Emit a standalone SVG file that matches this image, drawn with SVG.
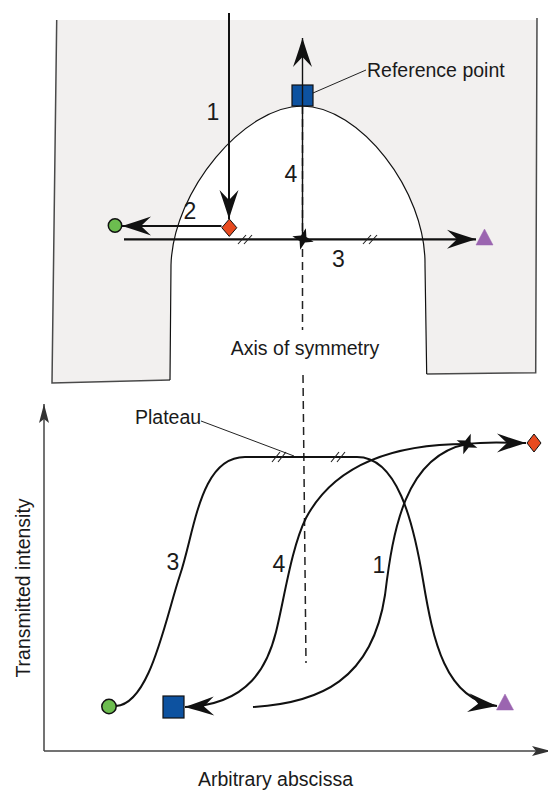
<svg xmlns="http://www.w3.org/2000/svg" width="548" height="790" viewBox="0 0 548 790">
<style>
text{font-family:"Liberation Sans",Arial,sans-serif;fill:#1a1a1a}
.lbl{font-size:19.5px}
.num{font-size:23px;text-anchor:middle}
.edge{fill:none;stroke:#4a4a4a;stroke-width:1.5}
.arch{fill:none;stroke:#111;stroke-width:1.2}
.ln{fill:none;stroke:#111;stroke-width:2}
.curve{fill:none;stroke:#111;stroke-width:2}
.dash{fill:none;stroke:#222;stroke-width:1.5;stroke-dasharray:8 5}
.thin{fill:none;stroke:#222;stroke-width:1}
.tick{fill:none;stroke:#222;stroke-width:1.1}
.axis{fill:none;stroke:#444;stroke-width:1.5}
.sq{fill:#0d52a0;stroke:#111;stroke-width:1.2}
.ci{fill:#6cbd4f;stroke:#111;stroke-width:1.5}
.di{fill:#e84a1f;stroke:#111;stroke-width:1}
.tr{fill:#9b65b0;stroke:#9b65b0;stroke-width:0.5}
.st{fill:#111}
</style>
<defs>
<marker id="ah" markerUnits="userSpaceOnUse" markerWidth="32" markerHeight="22" viewBox="0 0 32 22" refX="30" refY="11" orient="auto" overflow="visible">
<path d="M30,11 Q17,7 1,1.5 L11,11 L1,20.5 Q17,15 30,11 Z" fill="#111"/>
</marker>
<marker id="ax" markerUnits="userSpaceOnUse" markerWidth="22" markerHeight="12" viewBox="0 0 22 12" refX="20" refY="6" orient="auto" overflow="visible">
<path d="M20,6 L1,1 L5,6 L1,11 Z" fill="#333"/>
</marker>
<path id="star" d="M0,-11 L2.8,-2.8 L11,0 L2.8,2.8 L0,11 L-2.8,2.8 L-11,0 L-2.8,-2.8 Z"/>
</defs>

<g id="sample">
<path d="M56.7,20 L537,20 L535.7,372.7 L426.7,374 L425,265 C426,190 359,106 302,106 C245,106 173,190 171,265 L170,380 L52,383 Z" fill="#f2f0ef"/>
<path class="edge" d="M56.7,20 L52,383 L170,380"/>
<path class="edge" d="M537,18 L535.7,372.7 L426.7,374"/>
<path class="arch" d="M170,380 L171,265 C173,190 245,106 302,106 C359,106 426,190 425,265 L426.7,374"/>
</g>

<g id="axes">
<line class="axis" x1="44" y1="751" x2="44" y2="404" marker-end="url(#ax)"/>
<line class="axis" x1="44" y1="751" x2="551" y2="751" marker-end="url(#ax)"/>
</g>

<g id="connectors">
<path class="dash" d="M302.5,106 L302.5,330"/>
<path class="dash" d="M303,375 L306,663"/>
<line class="ln" x1="229" y1="13" x2="229" y2="219" marker-end="url(#ah)"/>
<line class="ln" x1="221.5" y1="226" x2="122" y2="226" marker-end="url(#ah)"/>
<line class="ln" x1="124" y1="239.3" x2="476" y2="239.3" marker-end="url(#ah)" style="stroke-width:2.3"/>
<path class="tick" d="M238,244 L246,235 M244,244 L252,235"/>
<path class="tick" d="M363,244 L371,235 M369,244 L377,235"/>
<path class="thin" d="M313,93 L366,70"/>
<path class="thin" d="M201,421 L294,456"/>
<path id="curve3" class="curve" d="M116,706 C150,704 165,620 180,575 C195,530 200,457 245,457 L357,457 C397,457 413,520 423,580 C433,640 445,700 497,706" marker-end="url(#ah)"/>
<path class="tick" d="M272,462 L280,452 M278,462 L286,452"/>
<path class="tick" d="M331,462 L339,452 M337,462 L345,452"/>
<path id="curve4" class="curve" d="M467,444 C405,444 338,458 306,518 C291.5,547 284,600 276,632 C268,664 250,705 185,707" marker-end="url(#ah)"/>
<path id="curve1" class="curve" d="M253,707 C320,703 372,680 385,595 C393,530 405,456 467,444 C490,441 508,443 526,443" marker-end="url(#ah)"/>
</g>

<g id="ref-square">
<rect class="sq" x="292" y="85" width="21" height="21"/>
</g>
<line class="ln" x1="302.5" y1="239" x2="302.5" y2="38" marker-end="url(#ah)" style="stroke-width:1.4"/>
<g id="top-circle"><circle class="ci" cx="115" cy="225.5" r="6.7"/></g>
<g id="top-diamond"><path class="di" d="M229.3,219 L236.8,227.7 L229.3,236.4 L221.8,227.7 Z"/></g>
<g id="top-triangle"><path class="tr" d="M484.5,229 L493,245 L476,245 Z"/></g>
<g id="top-star"><use href="#star" class="st" transform="translate(303,239) rotate(15)"/></g>

<g id="plot-circle"><circle class="ci" cx="109" cy="706.5" r="7.2"/></g>
<g id="plot-square"><rect class="sq" x="163" y="696" width="21" height="22"/></g>
<g id="plot-triangle"><path class="tr" d="M505,694 L513.5,710 L496.5,710 Z"/></g>
<g id="plot-diamond"><path class="di" d="M534,434 L541,443 L534,452 L527,443 Z"/></g>
<g id="plot-star"><use href="#star" class="st" transform="translate(467,444) rotate(20)"/></g>

<g id="labels">
<text class="lbl" x="367" y="77">Reference point</text>
<text class="lbl" x="305" y="355" text-anchor="middle">Axis of symmetry</text>
<text class="lbl" x="135" y="424">Plateau</text>
<text class="lbl" x="275.5" y="786" text-anchor="middle">Arbitrary abscissa</text>
<text class="lbl" transform="translate(30,588) rotate(-90)" text-anchor="middle">Transmitted intensity</text>
<text class="num" x="213" y="120">1</text>
<text class="num" x="190" y="219">2</text>
<text class="num" x="338.5" y="267">3</text>
<text class="num" x="291" y="182">4</text>
<text class="num" x="173" y="570">3</text>
<text class="num" x="279" y="572">4</text>
<text class="num" x="379" y="573">1</text>
</g>
</svg>
